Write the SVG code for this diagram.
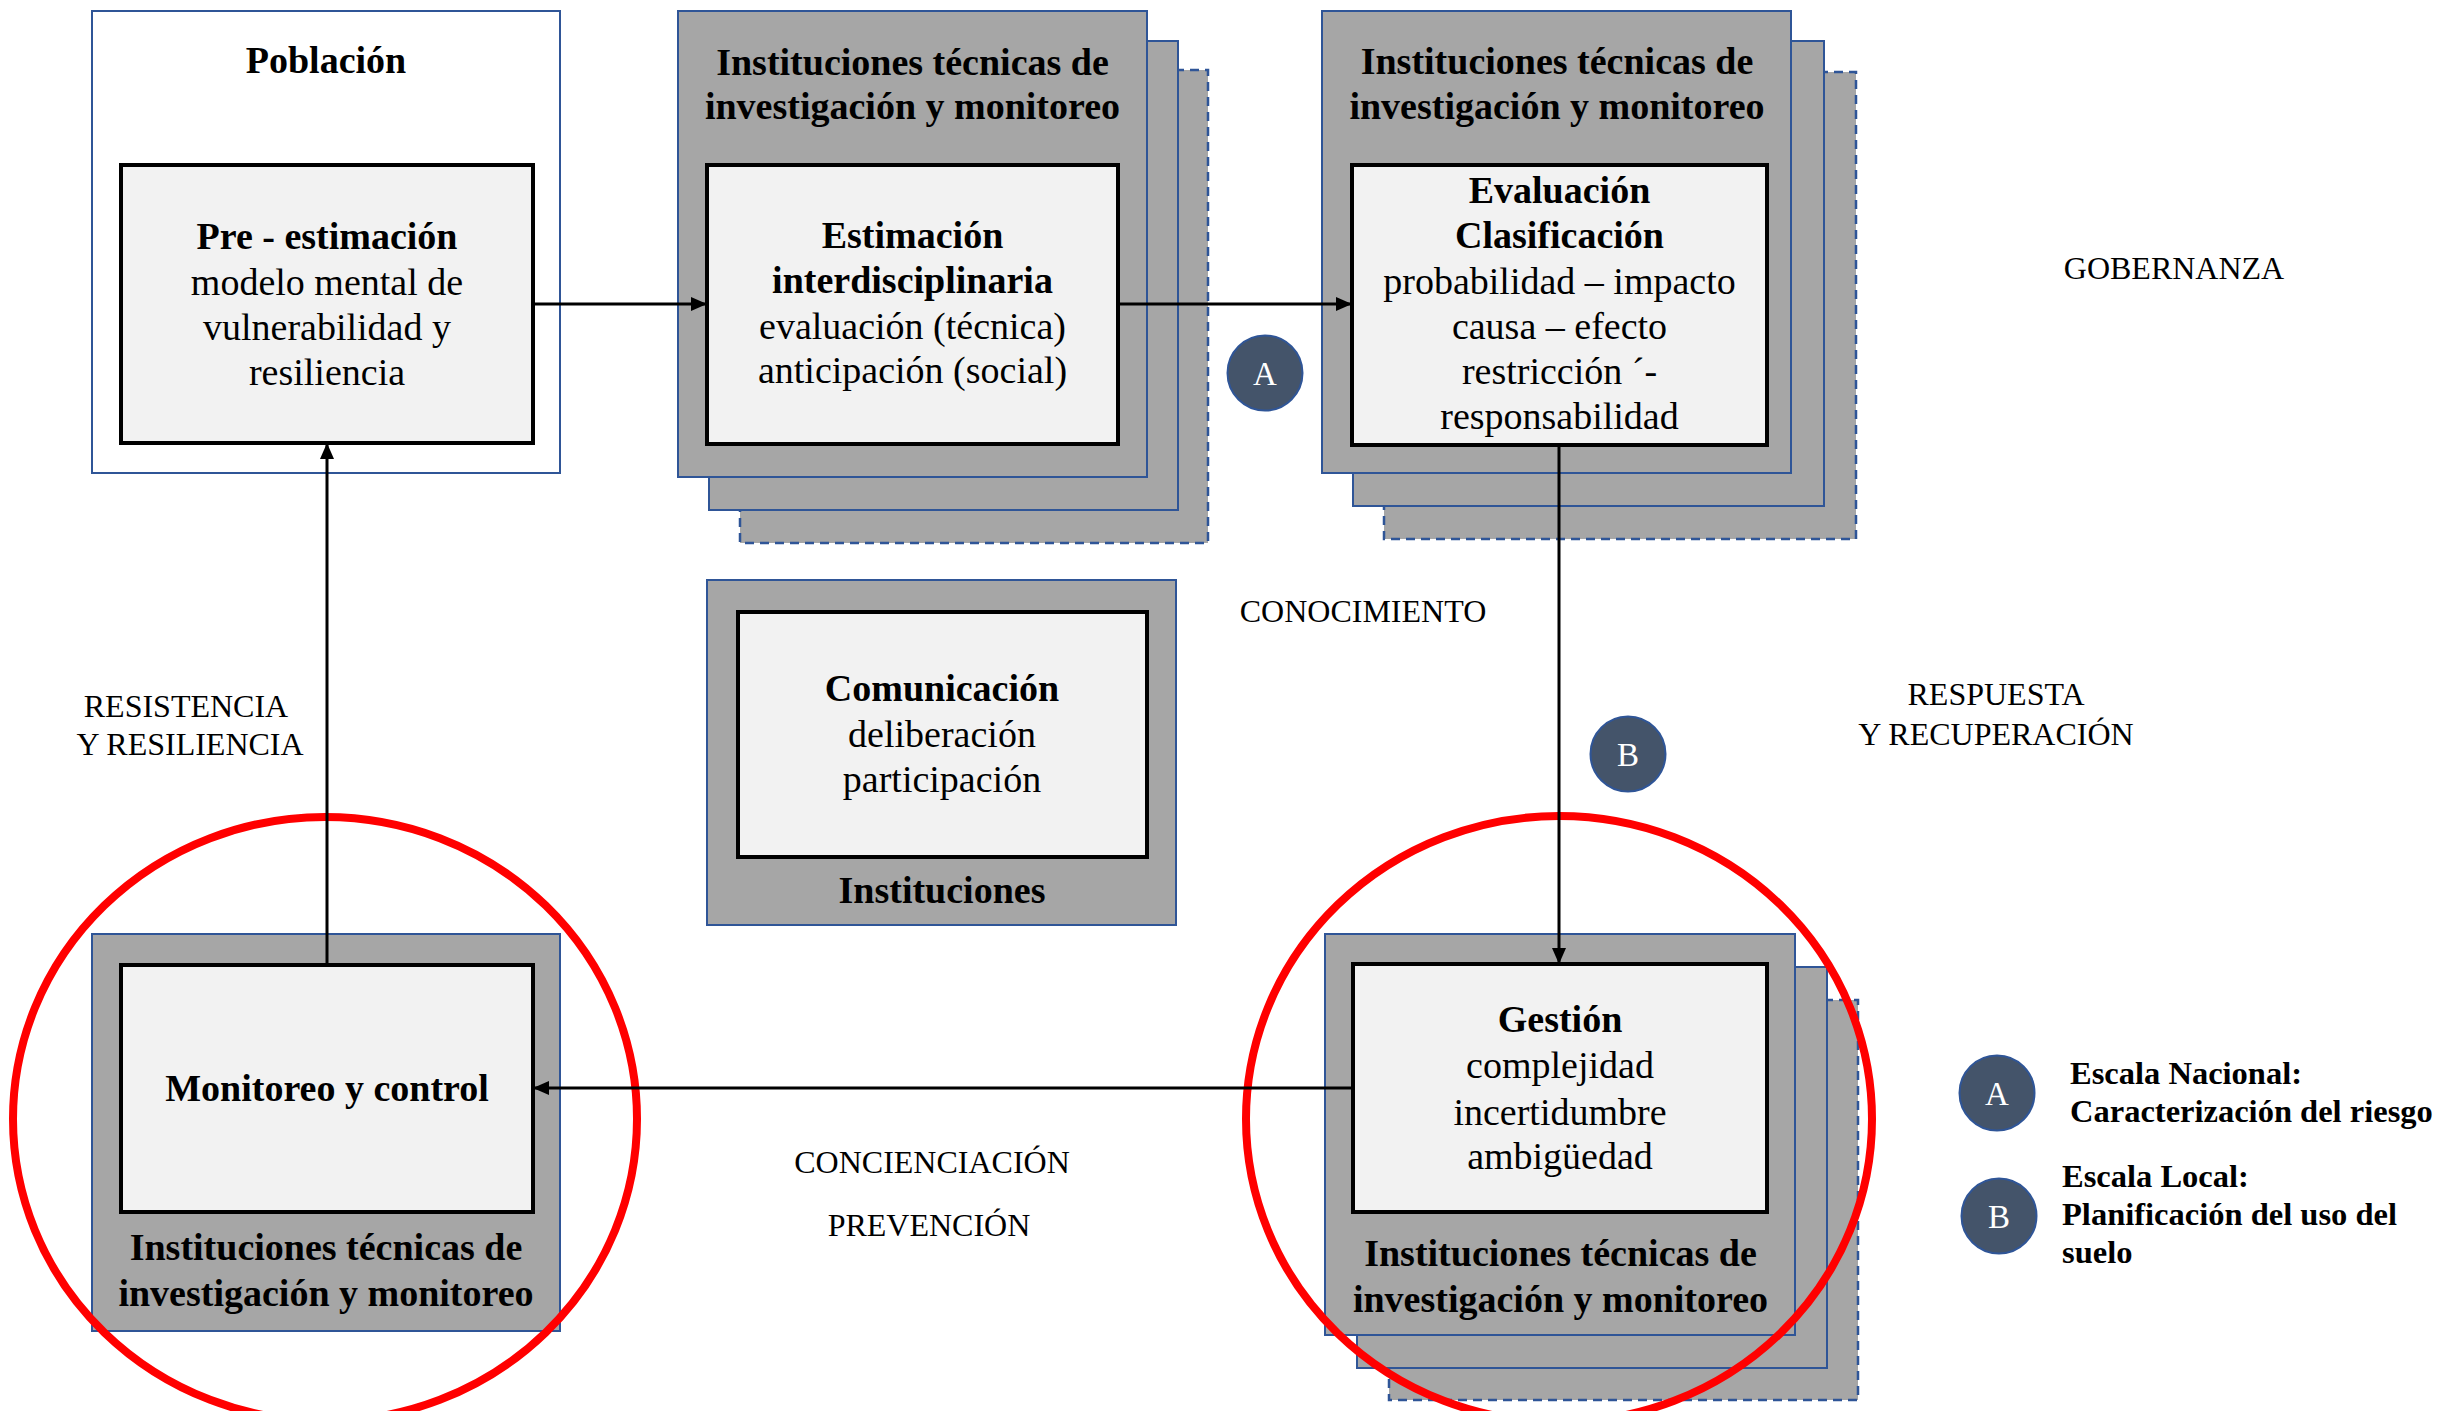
<svg xmlns="http://www.w3.org/2000/svg" width="2458" height="1411" viewBox="0 0 2458 1411">
<style>
  text { font-family: "Liberation Serif", "Times New Roman", serif; fill: #000; }
  .b { font-weight: bold; font-size: 38px; text-anchor: middle; }
  .r { font-size: 38px; text-anchor: middle; }
  .lbl { font-size: 32px; text-anchor: middle; }
  .leg { font-size: 32.5px; font-weight: bold; }
  .outer { fill: #A6A6A6; stroke: #2F5597; stroke-width: 2; }
  .dash { fill: #A6A6A6; stroke: #2F5597; stroke-width: 2.5; stroke-dasharray: 9 6; }
  .inner { fill: #F2F2F2; stroke: #000; stroke-width: 4; }
  .conn { stroke: #000; stroke-width: 3; fill: none; }
  .badge { fill: #44546A; stroke: #2F5597; stroke-width: 2; }
  .bl { font-size: 33px; fill: #fff; text-anchor: middle; }
  .ring { fill: none; stroke: #FF0000; stroke-width: 8; }
</style>
<defs>
  <marker id="arr" markerUnits="userSpaceOnUse" markerWidth="16" markerHeight="14" refX="16" refY="7" orient="auto">
    <path d="M0,0 L16,7 L0,14 z" fill="#000"/>
  </marker>
</defs>
<rect width="2458" height="1411" fill="#fff"/>

<g id="poblacion">
  <rect x="92" y="11" width="468" height="462" fill="#fff" stroke="#2F5597" stroke-width="2"/>
  <text class="b" x="326" y="73">Población</text>
  <rect class="inner" x="121" y="165" width="412" height="278"/>
  <text class="b" x="327" y="249">Pre - estimación</text>
  <text class="r" x="327" y="294.5">modelo mental de</text>
  <text class="r" x="327" y="340">vulnerabilidad y</text>
  <text class="r" x="327" y="385">resiliencia</text>
</g>

<g id="estimacion">
  <rect class="dash" x="740" y="70" width="468" height="473"/>
  <rect class="outer" x="709" y="41" width="469" height="469"/>
  <rect class="outer" x="678" y="11" width="469" height="466"/>
  <text class="b" x="912.5" y="74.5">Instituciones técnicas de</text>
  <text class="b" x="912.5" y="119">investigación y monitoreo</text>
  <rect class="inner" x="707" y="165" width="411" height="279"/>
  <text class="b" x="912.5" y="248">Estimación</text>
  <text class="b" x="912.5" y="293">interdisciplinaria</text>
  <text class="r" x="912.5" y="339">evaluación (técnica)</text>
  <text class="r" x="912.5" y="383">anticipación (social)</text>
</g>

<g id="evaluacion">
  <rect class="dash" x="1384" y="72" width="472" height="467"/>
  <rect class="outer" x="1353" y="41" width="471" height="465"/>
  <rect class="outer" x="1322" y="11" width="469" height="462"/>
  <text class="b" x="1557" y="73.5">Instituciones técnicas de</text>
  <text class="b" x="1557" y="119">investigación y monitoreo</text>
  <rect class="inner" x="1352" y="165" width="415" height="280"/>
  <text class="b" x="1559.5" y="203">Evaluación</text>
  <text class="b" x="1559.5" y="248">Clasificación</text>
  <text class="r" x="1559.5" y="293.5">probabilidad – impacto</text>
  <text class="r" x="1559.5" y="338.5">causa – efecto</text>
  <text class="r" x="1559.5" y="384">restricción ´-</text>
  <text class="r" x="1559.5" y="428.5">responsabilidad</text>
</g>

<g id="comunicacion">
  <rect class="outer" x="707" y="580" width="469" height="345"/>
  <rect class="inner" x="738" y="612" width="409" height="245"/>
  <text class="b" x="942" y="701">Comunicación</text>
  <text class="r" x="942" y="747">deliberación</text>
  <text class="r" x="942" y="792">participación</text>
  <text class="b" x="942" y="903">Instituciones</text>
</g>

<g id="monitoreo">
  <rect class="outer" x="92" y="934" width="468" height="397"/>
  <rect class="inner" x="121" y="965" width="412" height="247"/>
  <text class="b" x="327" y="1101">Monitoreo y control</text>
  <text class="b" x="326" y="1260">Instituciones técnicas de</text>
  <text class="b" x="326" y="1305.5">investigación y monitoreo</text>
</g>

<g id="gestion">
  <rect class="dash" x="1389" y="1000" width="469" height="400"/>
  <rect class="outer" x="1357" y="967" width="470" height="401"/>
  <rect class="outer" x="1325" y="934" width="470" height="401"/>
  <rect class="inner" x="1353" y="964" width="414" height="248"/>
  <text class="b" x="1560" y="1032">Gestión</text>
  <text class="r" x="1560" y="1078">complejidad</text>
  <text class="r" x="1560" y="1124.5">incertidumbre</text>
  <text class="r" x="1560" y="1169">ambigüedad</text>
  <text class="b" x="1560.5" y="1265.5">Instituciones técnicas de</text>
  <text class="b" x="1560.5" y="1311.5">investigación y monitoreo</text>
</g>

<g id="highlights">
  <ellipse class="ring" cx="325" cy="1119" rx="312" ry="302"/>
  <ellipse class="ring" cx="1559" cy="1119" rx="313" ry="303"/>
</g>

<g id="connectors">
  <line class="conn" x1="533" y1="304" x2="707" y2="304" marker-end="url(#arr)" stroke-width="3.5"/>
  <line class="conn" x1="1118" y1="304" x2="1352" y2="304" marker-end="url(#arr)" stroke-width="3.5"/>
  <line class="conn" x1="1559" y1="445" x2="1559" y2="964" marker-end="url(#arr)"/>
  <line class="conn" x1="1353" y1="1088" x2="533" y2="1088" marker-end="url(#arr)"/>
  <line class="conn" x1="327" y1="965" x2="327" y2="443" marker-end="url(#arr)"/>
</g>

<g id="labels">
  <text class="lbl" x="2174" y="279">GOBERNANZA</text>
  <text class="lbl" x="1363" y="622">CONOCIMIENTO</text>
  <text class="lbl" x="1996" y="705">RESPUESTA</text>
  <text class="lbl" x="1996" y="744.5">Y RECUPERACIÓN</text>
  <text class="lbl" x="186" y="717">RESISTENCIA</text>
  <text class="lbl" x="190" y="755">Y RESILIENCIA</text>
  <text class="lbl" x="932" y="1173">CONCIENCIACIÓN</text>
  <text class="lbl" x="929" y="1236">PREVENCIÓN</text>
</g>

<g id="badge-a">
  <circle class="badge" cx="1265" cy="373" r="37.5"/>
  <text class="bl" x="1265" y="384.5">A</text>
</g>
<g id="badge-b">
  <circle class="badge" cx="1628" cy="754" r="37.5"/>
  <text class="bl" x="1628" y="765.5">B</text>
</g>

<g id="legend">
  <g id="legend-a">
    <circle class="badge" cx="1997" cy="1093" r="37.5"/>
    <text class="bl" x="1997" y="1104.5">A</text>
    <text class="leg" x="2070" y="1084">Escala Nacional:</text>
    <text class="leg" x="2070" y="1122">Caracterización del riesgo</text>
  </g>
  <g id="legend-b">
    <circle class="badge" cx="1999" cy="1216" r="37.5"/>
    <text class="bl" x="1999" y="1227.5">B</text>
    <text class="leg" x="2062" y="1187">Escala Local:</text>
    <text class="leg" x="2062" y="1225">Planificación del uso del</text>
    <text class="leg" x="2062" y="1263">suelo</text>
  </g>
</g>
</svg>
